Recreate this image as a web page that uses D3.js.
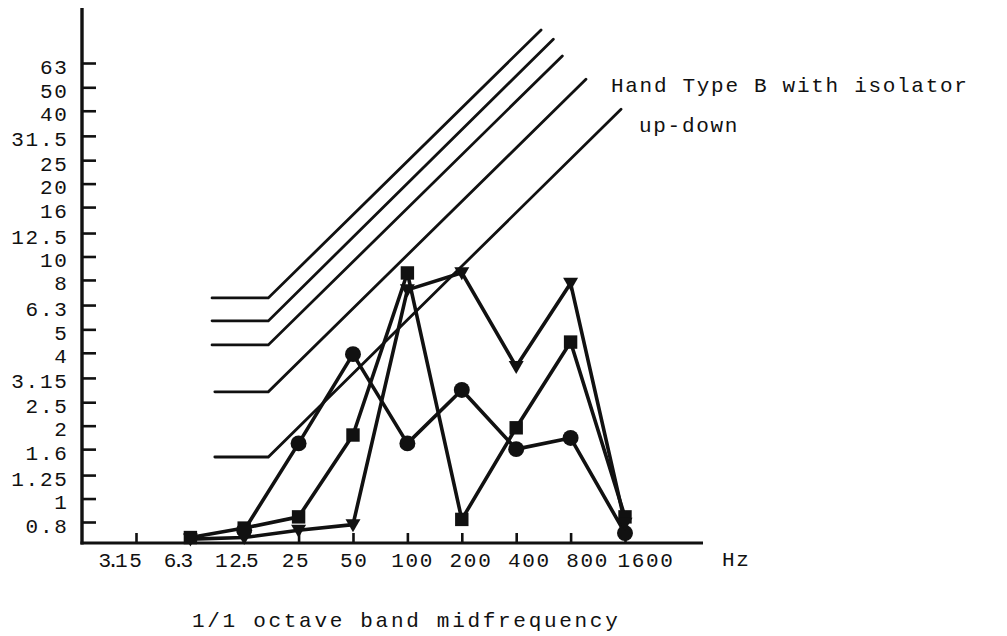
<!DOCTYPE html>
<html>
<head>
<meta charset="utf-8">
<script src="https://cdn.jsdelivr.net/npm/d3@7"></script>
<style>
  html, body { margin: 0; padding: 0; background: #fff; }
  svg { display: block; }
  text { font-family: "Liberation Mono", "DejaVu Sans Mono", monospace; fill: #111; }
</style>
</head>
<body>
<svg id="chart" width="1007" height="636"></svg>
<script>
// Octave band midfrequencies (Hz) and axis tick sets
const bandHz = [6.3, 12.5, 25, 50, 100, 200, 400, 800, 1600];
const xTickHz = [3.15, 6.3, 12.5, 25, 50, 100, 200, 400, 800, 1600];
const xTickLabels = ["3.15", "6.3", "12.5", "25", "50", "100", "200", "400", "800", "1600"];
const yTickVals = [0.8, 1, 1.25, 1.6, 2, 2.5, 3.15, 4, 5, 6.3, 8, 10, 12.5, 16, 20, 25, 31.5, 40, 50, 63];
const yTickLabels = ["0.8", "1", "1.25", "1.6", "2", "2.5", "3.15", "4", "5", "6.3", "8", "10", "12.5", "16", "20", "25", "31.5", "40", "50", "63"];

// Measured band values, one array per marker series (null = no reading)
const squareVals   = [0.69, 0.755, 0.84, 1.83, 8.55, 0.82, 1.96, 4.43, 0.84];
const circleVals   = [null, 0.74, 1.69, 3.95, 1.69, 2.81, 1.60, 1.78, 0.72];
const triangleVals = [0.68, 0.69, 0.74, 0.78, 7.28, 8.57, 3.51, 7.75, 0.79];

// Limit curves: flat from start to knee, then rising to the end point
const limitStartHz = [8.3, 8.3, 8.3, 8.6, 8.6];
const limitKneeHz  = [17, 17, 17, 17, 17];
const limitFlatVal = [6.74, 5.42, 4.31, 2.76, 1.485];
const limitEndHz   = [549, 642, 720, 973, 1521];
const limitEndVal  = [86.3, 79, 67.4, 54, 40.6];

const titleText = "1/1 octave band midfrequency";
const legendLines = ["Hand Type B with isolator", "up-down"];
const unitText = "Hz";

const svg = d3.select("#chart");
const ink = "#111";
const fontSize = 21;
const typeSpacing = 1.7;   // typewriter-style letter spacing

// Scales
const x = d3.scaleLog().domain([3.15, 1600]).range([136, 625]);
const xLabel = d3.scalePoint().domain(xTickLabels).range([121, 646]);
const y = d3.scaleLog().domain([0.8, 63]).range([522, 63]);

const axisX0 = 82, axisY0 = 543, axisTop = 8, axisRight = 703;

// Axis lines
svg.append("line")
  .attr("x1", axisX0).attr("x2", axisX0)
  .attr("y1", axisTop).attr("y2", axisY0 + 1.5)
  .attr("stroke", ink).attr("stroke-width", 3.4);
svg.append("line")
  .attr("x1", axisX0 - 1.5).attr("x2", axisRight)
  .attr("y1", axisY0).attr("y2", axisY0)
  .attr("stroke", ink).attr("stroke-width", 3.2);

// Y ticks (pointing inward)
const gy = svg.append("g")
  .attr("transform", `translate(${axisX0},0)`)
  .call(d3.axisRight(y).tickValues(yTickVals).tickSize(14).tickSizeOuter(0).tickFormat(() => ""));
gy.select(".domain").remove();
gy.selectAll(".tick line").attr("stroke", ink).attr("stroke-width", 2.6);

// Y labels
svg.append("g").selectAll("text")
  .data(yTickVals)
  .join("text")
  .attr("x", 68.5)
  .attr("y", d => y(d) + 10.5)
  .attr("text-anchor", "end")
  .attr("font-size", fontSize)
  .attr("letter-spacing", typeSpacing)
  .text((d, i) => yTickLabels[i]);

// X ticks (pointing inward)
const gx = svg.append("g")
  .attr("transform", `translate(0,${axisY0})`)
  .call(d3.axisTop(x).tickValues(xTickHz).tickSize(10).tickSizeOuter(0).tickFormat(() => ""));
gx.select(".domain").remove();
gx.selectAll(".tick line").attr("stroke", ink).attr("stroke-width", 2.6);

// X labels: decimal point set tight between the digits
svg.append("g").selectAll("text")
  .data(xTickLabels)
  .join("text")
  .attr("x", d => xLabel(d))
  .attr("y", 567)
  .attr("text-anchor", "middle")
  .attr("font-size", fontSize)
  .attr("letter-spacing", typeSpacing)
  .attr("dx", d => {
    const k = d.indexOf(".");
    if (k < 0) return null;
    return d.split("").map((c, i) => (i === k || i === k + 1) ? -6 : 0).join(" ");
  })
  .text(d => d);

svg.append("text")
  .attr("x", 722).attr("y", 566)
  .attr("font-size", fontSize)
  .attr("letter-spacing", typeSpacing)
  .text(unitText);

// Axis title
svg.append("text")
  .attr("x", 192).attr("y", 627)
  .attr("font-size", fontSize)
  .attr("letter-spacing", 2.7)
  .text(titleText);

// Legend text
svg.append("text")
  .attr("x", 611).attr("y", 92)
  .attr("font-size", fontSize)
  .attr("letter-spacing", typeSpacing)
  .text(legendLines[0]);
svg.append("text")
  .attr("x", 639).attr("y", 132)
  .attr("font-size", fontSize)
  .attr("letter-spacing", typeSpacing)
  .text(legendLines[1]);

// Limit curves
const line = d3.line().x(d => x(d.f)).y(d => y(d.v));
const limits = limitFlatVal.map((v, i) => [
  { f: limitStartHz[i], v: v },
  { f: limitKneeHz[i], v: v },
  { f: limitEndHz[i], v: limitEndVal[i] }
]);
svg.append("g").selectAll("path")
  .data(limits)
  .join("path")
  .attr("d", line)
  .attr("fill", "none")
  .attr("stroke", ink)
  .attr("stroke-width", 2.8)
  .attr("stroke-linecap", "round");

// Measured series
const toPts = vals => bandHz.map((f, i) => ({ f, v: vals[i] }));
const series = [
  { name: "square", pts: toPts(squareVals) },
  { name: "circle", pts: toPts(circleVals) },
  { name: "triangle", pts: toPts(triangleVals) }
];
const dataLine = d3.line().defined(d => d.v != null).x(d => x(d.f)).y(d => y(d.v));

svg.append("g").selectAll("path")
  .data(series)
  .join("path")
  .attr("d", d => dataLine(d.pts))
  .attr("fill", "none")
  .attr("stroke", ink)
  .attr("stroke-width", 3.6)
  .attr("stroke-linejoin", "round");

// Markers
const markerPath = {
  square: d3.symbol().type(d3.symbolSquare).size(180)(),
  circle: d3.symbol().type(d3.symbolCircle).size(200)(),
  triangle: "M-7.5,-5.5L7.5,-5.5L0,7.5Z"
};
series.forEach(s => {
  svg.append("g").selectAll("path")
    .data(s.pts.filter(d => d.v != null))
    .join("path")
    .attr("transform", d => `translate(${x(d.f)},${y(d.v)})`)
    .attr("d", markerPath[s.name])
    .attr("fill", ink);
});
</script>
</body>
</html>
